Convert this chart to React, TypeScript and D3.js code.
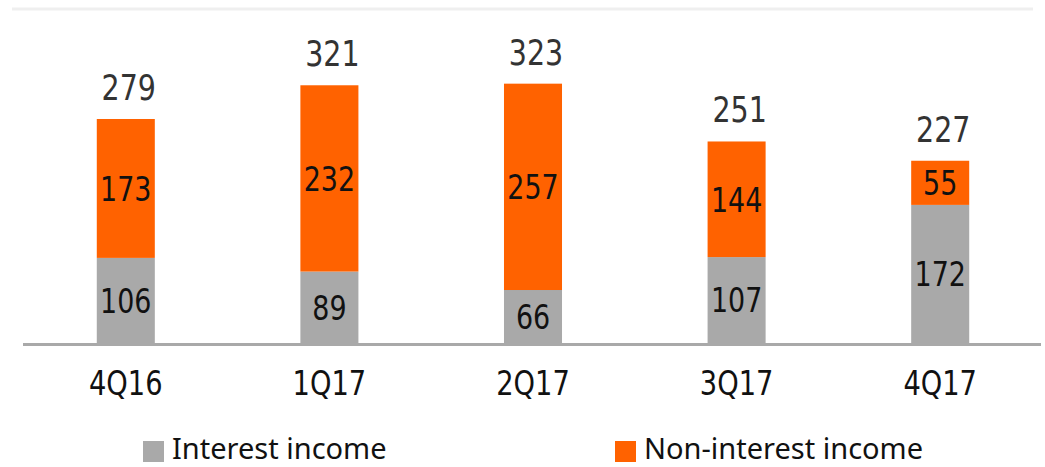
import React, { useRef, useEffect } from "react";
import * as d3 from "d3";

const quarters = ["4Q16", "1Q17", "2Q17", "3Q17", "4Q17"];
const interestIncome = [106, 89, 66, 107, 172];
const nonInterestIncome = [173, 232, 257, 144, 55];
const seriesNames = ["Interest income", "Non-interest income"];
const seriesColors = ["#a9a9a9", "#ff6200"];

const numFont = "'DejaVu Sans Condensed', 'DejaVu Sans', sans-serif";
const legendFont = "'Noto Sans', sans-serif";

const App = () => {
  const svgRef = useRef<SVGSVGElement>(null);
  const width = 1045;
  const height = 467;

  useEffect(() => {
    const svg = d3.select(svgRef.current);
    svg.selectAll("*").remove();

    const baseY = 343;
    const x = d3.scaleBand().domain(quarters).range([24, 1042]).paddingInner(0.715).paddingOuter(0.3575);
    const y = d3.scaleLinear().domain([0, 416]).range([baseY, 9]);

    // light top border line
    svg.append("line")
      .attr("x1", 12).attr("x2", 1033)
      .attr("y1", y(416)).attr("y2", y(416))
      .attr("stroke", "#efefef").attr("stroke-width", 3);

    const rows = quarters.map((q, i) => ({ q, a: interestIncome[i], b: nonInterestIncome[i] }));

    // interest income (bottom)
    svg.selectAll(".barA").data(rows).enter().append("rect")
      .attr("x", (d) => x(d.q)!)
      .attr("width", x.bandwidth())
      .attr("y", (d) => y(d.a))
      .attr("height", (d) => y(0) - y(d.a))
      .attr("fill", seriesColors[0]);

    // non-interest income (top)
    svg.selectAll(".barB").data(rows).enter().append("rect")
      .attr("x", (d) => x(d.q)!)
      .attr("width", x.bandwidth())
      .attr("y", (d) => y(d.a + d.b))
      .attr("height", (d) => y(d.a) - y(d.a + d.b))
      .attr("fill", seriesColors[1]);

    // baseline
    svg.append("line")
      .attr("x1", 23).attr("x2", 1041)
      .attr("y1", baseY + 1.5).attr("y2", baseY + 1.5)
      .attr("stroke", "#a9a9a9").attr("stroke-width", 3);

    const cx = (q: string) => x(q)! + x.bandwidth() / 2;
    const segFont = 34;
    const squeeze = 0.88;

    const numLabel = (sel: any, fx: (d: any) => number, fy: (d: any) => number, size: number, fill: string, sx: number) =>
      sel.append("text")
        .attr("transform", (d: any) => `translate(${fx(d)},${fy(d)}) scale(${sx},1)`)
        .attr("text-anchor", "middle")
        .style("font-family", numFont).style("font-size", size + "px")
        .attr("fill", fill);

    numLabel(svg.selectAll(".labA").data(rows).enter(), (d) => cx(d.q), (d) => (y(0) + y(d.a)) / 2 + segFont * 0.36, segFont, "#111", squeeze)
      .text((d: any) => d.a);

    numLabel(svg.selectAll(".labB").data(rows).enter(), (d) => cx(d.q), (d) => (y(d.a) + y(d.a + d.b)) / 2 + segFont * 0.36, segFont, "#111", squeeze)
      .text((d: any) => d.b);

    // totals
    numLabel(svg.selectAll(".tot").data(rows).enter(), (d) => cx(d.q) + 3, (d) => y(d.a + d.b) - 19, 36, "#333", squeeze)
      .text((d: any) => d.a + d.b);

    // category labels
    numLabel(svg.selectAll(".cat").data(quarters).enter(), (d) => cx(d), () => baseY + 52, 33, "#111", 0.92)
      .text((d: any) => d);

    // legend
    const legendX = [143, 615];
    const lg = svg.selectAll(".leg").data(seriesNames).enter().append("g")
      .attr("transform", (d, i) => `translate(${legendX[i]},0)`);
    lg.append("rect")
      .attr("x", 0).attr("y", 441).attr("width", 21).attr("height", 21)
      .attr("fill", (d, i) => seriesColors[i]);
    lg.append("text")
      .attr("x", 29).attr("y", 459)
      .style("font-family", legendFont).style("font-size", "29px")
      .attr("fill", "#111")
      .text((d) => d);
  }, []);

  return (
    <svg
      ref={svgRef}
      width={width}
      height={height}
      style={{ position: "absolute", left: 0, top: 0, background: "#fff" }}
    ></svg>
  );
};

export default App;
